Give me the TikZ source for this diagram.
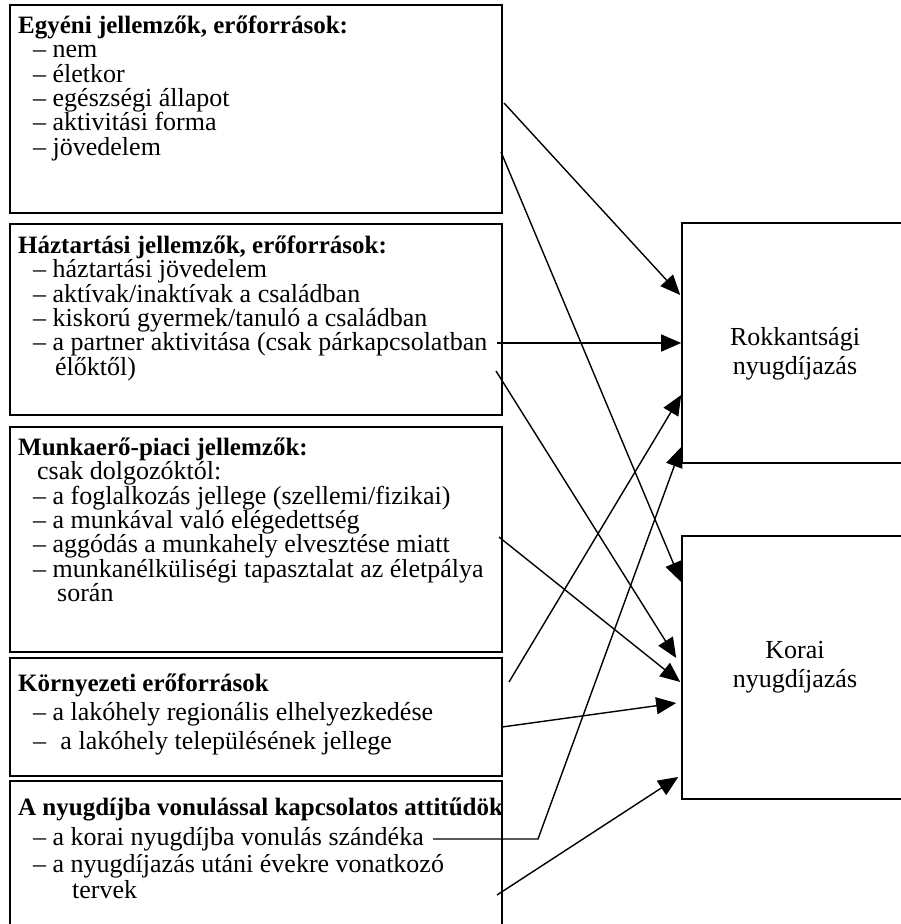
\documentclass[tikz,border=0pt]{standalone}
\usepackage{fontspec}
\setmainfont{Liberation Serif}
\usetikzlibrary{arrows.meta,calc}
\tikzset{
  doboz/.style={draw,line width=1.6pt,anchor=north west,inner sep=0pt},
  szoveg/.style={anchor=north west,align=left,inner sep=0pt,font=\fontsize{26}{24.4}\selectfont},
  cimke/.style={align=center,inner sep=0pt,font=\fontsize{26}{29}\selectfont},
  nyil/.style={line width=1.4pt,-{Triangle[length=20pt,width=17pt]}}
}
\newcommand{\fel}{\rule{0pt}{20pt}}
\newcommand{\cim}[1]{{\fontsize{25}{24.4}\selectfont\bfseries #1}}
\begin{document}
\begin{tikzpicture}[x=1pt,y=-1pt]
\useasboundingbox (0,0) rectangle (900,924);
\node[doboz,minimum width=492pt,minimum height=208pt] (egyeni) at (9,4) {};
\node[doboz,minimum width=492pt,minimum height=191pt] (haztartas) at (9,223) {};
\node[doboz,minimum width=492pt,minimum height=225pt] (munka) at (9,426) {};
\node[doboz,minimum width=492pt,minimum height=118pt] (kornyezet) at (9,657) {};
\node[doboz,minimum width=492pt,minimum height=160pt] (attitud) at (9,780) {};
\node[szoveg] (egyenitxt) at (18,13) {\fel\cim{Egyéni jellemzők, erőforrások:}\\
  \hspace*{15pt}– nem\\
  \hspace*{15pt}– életkor\\
  \hspace*{15pt}– egészségi állapot\\
  \hspace*{15pt}– aktivitási forma\\
  \hspace*{15pt}– jövedelem};
\node[szoveg] (haztartastxt) at (18,233) {\fel\cim{Háztartási jellemzők, erőforrások:}\\
  \hspace*{15pt}– háztartási jövedelem\\
  \hspace*{15pt}– aktívak/inaktívak a családban\\
  \hspace*{15pt}– kiskorú gyermek/tanuló a családban\\
  \hspace*{15pt}– a partner aktivitása (csak párkapcsolatban\\
  \hspace*{37pt}élőktől)};
\node[szoveg] (munkatxt) at (18,435) {\fel\cim{Munkaerő-piaci jellemzők:}\\
  \hspace*{19pt}csak dolgozóktól:\\
  \hspace*{15pt}– a foglalkozás jellege (szellemi/fizikai)\\
  \hspace*{15pt}– a munkával való elégedettség\\
  \hspace*{15pt}– aggódás a munkahely elvesztése miatt\\
  \hspace*{15pt}– munkanélküliségi tapasztalat az életpálya\\
  \hspace*{39pt}során};
\node[szoveg,font=\fontsize{26}{29}\selectfont] (kornyezettxt) at (18,671) {\fel\cim{Környezeti erőforrások}\\
  \hspace*{15pt}– a lakóhely regionális elhelyezkedése\\
  \hspace*{15pt}–\hspace{0.55em}a lakóhely településének jellege};
\node[szoveg,font=\fontsize{26}{26.5}\selectfont] (attitudtxt) at (18,795) {\fel\cim{A nyugdíjba vonulással kapcsolatos attitűdök}\\[4pt]
  \hspace*{15pt}– a korai nyugdíjba vonulás szándéka\\
  \hspace*{15pt}– a nyugdíjazás utáni évekre vonatkozó\\
  \hspace*{54pt}tervek};
\node[doboz,anchor=center,minimum width=226pt,minimum height=240pt] (rokkant) at (795,343) {};
\node[cimke] (rokkantfel) at (795,354) {Rokkantsági\\nyugdíjazás};
\node[doboz,anchor=center,minimum width=226pt,minimum height=263pt] (korai) at (795,667.5) {};
\node[cimke] (koraifel) at (795,667) {Korai\\nyugdíjazás};
\coordinate (e1) at (504,103);
\coordinate (e2) at (501,152);
\coordinate (h1) at (497,343);
\coordinate (h2) at (496,371);
\coordinate (m1) at (499,537);
\coordinate (k1) at (509,682);
\coordinate (k2) at (502,727);
\coordinate (a1) at (433,839);
\coordinate (a2) at (538,839);
\coordinate (a3) at (497,895);
\draw[nyil] (e1) -- ($(rokkant.west)+(-1,-48)$);
\draw[nyil] (e2) -- ($(korai.west)+(0,-85.5)$);
\draw[nyil] (h1) -- (rokkant.west);
\draw[nyil] (h2) -- ($(korai.west)+(-5,-9.5)$);
\draw[nyil] (m1) -- ($(korai.west)+(-1,14.5)$);
\draw[nyil] (k1) -- ($(rokkant.west)+(0,52)$);
\draw[nyil] (k2) -- ($(korai.west)+(-5,35.5)$);
\draw[nyil] (a1) -- (a2) -- ($(rokkant.west)+(0,104)$);
\draw[nyil] (a3) -- ($(korai.west)+(-3,109.5)$);
\end{tikzpicture}
\end{document}
